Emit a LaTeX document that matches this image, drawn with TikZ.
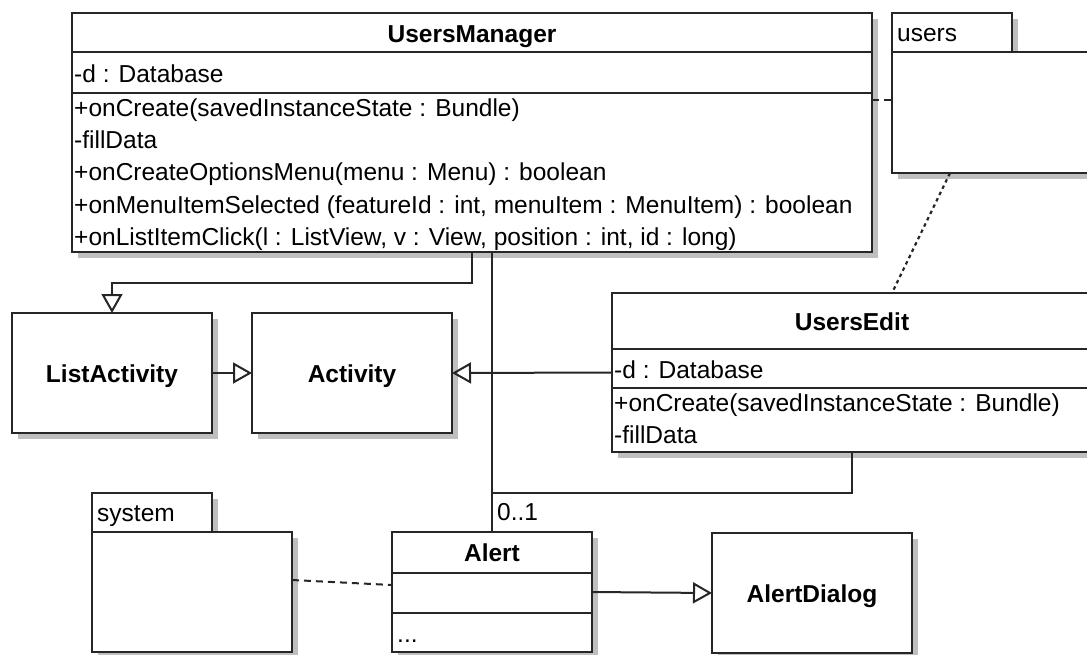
\documentclass[tikz,border=0pt]{standalone}
\usepackage{fontspec}
\setmainfont{Liberation Sans}
\usetikzlibrary{arrows.meta,shadows}

\newcommand\umlfont{\fontsize{24.5pt}{30pt}\selectfont}
\definecolor{linecol}{gray}{0.15}

\tikzset{
  box/.style={draw=linecol, line width=2pt, fill=white, outer sep=0pt, inner sep=0pt,
    anchor=north west,
    drop shadow={shadow xshift=6pt, shadow yshift=-6pt, fill=black!25, opacity=1}},
  sepline/.style={draw=linecol, line width=2pt},
  member/.style={font=\umlfont, text=black, inner sep=0pt, anchor=base west},
  classname/.style={font=\umlfont\bfseries, text=black, inner sep=0pt, anchor=base},
  conn/.style={draw=linecol, line width=2pt},
  inherit/.style={conn, -{Triangle[open, length=19pt, width=21pt]}},
  dep/.style={conn, dash pattern=on 7pt off 5pt},
  dotdep/.style={conn, line width=2.2pt, dash pattern=on 3.5pt off 3.5pt},
}

\begin{document}
\begin{tikzpicture}[x=1pt, y=-1pt]
\useasboundingbox (0,0) rectangle (1087,654);
\clip (0,0) rectangle (1087,654);

% UsersManager class
\node[box, minimum width=800pt, minimum height=239pt] (um) at (72,13) {};
\draw[sepline] ([yshift=-39pt]um.north west) -- ([yshift=-39pt]um.north east);
\draw[sepline] ([yshift=-80pt]um.north west) -- ([yshift=-80pt]um.north east);
\node[classname] (um-name) at (472,42) {UsersManager};
\node[member] (um-a1) at (74,82) {-d : Database};
\node[member] (um-o1) at (74,116) {+onCreate(savedInstanceState : Bundle)};
\node[member] (um-o2) at (74,148.5) {-fillData};
\node[member] (um-o3) at (74,180.5) {+onCreateOptionsMenu(menu : Menu) : boolean};
\node[member] (um-o4) at (74,213) {+onMenuItemSelected (featureId : int, menuItem : MenuItem) : boolean};
\node[member] (um-o5) at (74,245) {+onListItemClick(l : ListView, v : View, position : int, id : long)};

% users package
\node[box, minimum width=120pt, minimum height=39pt] (ustab) at (892,13) {};
\node[box, minimum width=200pt, minimum height=121pt] (usbody) at (892,52) {};
\node[member] (us-name) at (897,41) {users};

% UsersEdit class
\node[box, minimum width=480pt, minimum height=159pt] (ue) at (612,293) {};
\draw[sepline] ([yshift=-56pt]ue.north west) -- ([yshift=-56pt]ue.north east);
\draw[sepline] ([yshift=-95pt]ue.north west) -- ([yshift=-95pt]ue.north east);
\node[classname] (ue-name) at (852,330) {UsersEdit};
\node[member] (ue-a1) at (614,378) {-d : Database};
\node[member] (ue-o1) at (614,411) {+onCreate(savedInstanceState : Bundle)};
\node[member] (ue-o2) at (614,443.5) {-fillData};

% ListActivity and Activity
\node[box, minimum width=200pt, minimum height=120pt] (la) at (12,313) {};
\node[classname] (la-name) at (112,382) {ListActivity};
\node[box, minimum width=200pt, minimum height=120pt] (act) at (252,313) {};
\node[classname] (act-name) at (352,382) {Activity};

% system package
\node[box, minimum width=120pt, minimum height=39pt] (systab) at (92,493) {};
\node[box, minimum width=200pt, minimum height=120pt] (sysbody) at (92,532) {};
\node[member] (sys-name) at (97,521) {system};

% Alert class
\node[box, minimum width=200pt, minimum height=120pt] (al) at (392,532) {};
\draw[sepline] ([yshift=-41pt]al.north west) -- ([yshift=-41pt]al.north east);
\draw[sepline] ([yshift=-81pt]al.north west) -- ([yshift=-81pt]al.north east);
\node[classname] (al-name) at (492,561) {Alert};
\node[member] (al-o1) at (397,642) {...};

% AlertDialog class
\node[box, minimum width=200pt, minimum height=120pt] (ad) at (712,533) {};
\node[classname] (ad-name) at (812,602) {AlertDialog};

% generalizations
\draw[inherit] (um.south) -- ++(0,31) -| (la.north);
\draw[inherit] (la.east) -- (act.west);
\draw[inherit] (ue.west) -- (act.east);
\draw[inherit] (al.east) -- (ad.west);

% associations to Alert
\coordinate (join) at (492,493);
\draw[conn] ([xshift=20pt]um.south) -- (al.north);
\draw[conn] (ue.south) |- (join);
\node[member] (mult) at (497,520) {0..1};

% package dependencies
\draw[dep] (um.east |- 0,100) -- (usbody.west |- 0,100);
\draw[dotdep] ([xshift=58pt]usbody.south west) -- ([xshift=280pt]ue.north west);
\draw[dep] ([yshift=12pt]sysbody.east) -- ([yshift=7pt]al.west);

\end{tikzpicture}
\end{document}
